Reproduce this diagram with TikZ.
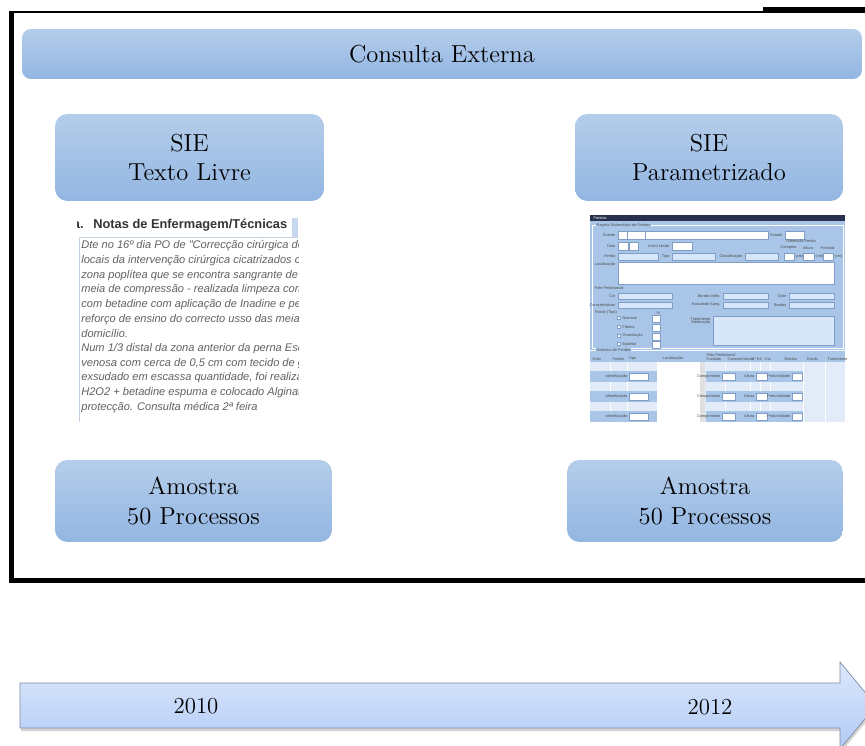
\documentclass[tikz,border=0pt]{standalone}
\usepackage{fontspec}
\usepackage{xcolor}
\usetikzlibrary{shadows}

\newfontfamily\shotfont{Liberation Sans}

\definecolor{boxtop}{HTML}{B4CDEA}
\definecolor{boxbot}{HTML}{93B6E2}
\definecolor{arrowtop}{HTML}{DCE8FC}
\definecolor{arrowbot}{HTML}{B2CBF6}
\definecolor{arrowline}{HTML}{7D8CA3}
\definecolor{formbg}{HTML}{A9C6E8}
\definecolor{formbar}{HTML}{27304D}
\definecolor{formline}{HTML}{7F9DC6}
\definecolor{combo}{HTML}{D7E6F8}
\definecolor{rowpale}{HTML}{E2ECF8}
\definecolor{shotline}{HTML}{C5D2E2}
\definecolor{shotblue}{HTML}{C7D8EE}

\tikzset{
    bluebox/.style={rounded corners=7pt, top color=boxtop, bottom color=boxbot,
        align=center, inner sep=0pt, font=\fontsize{14}{17}\selectfont},
    timearrow/.style={top color=arrowtop, bottom color=arrowbot, draw=arrowline, line width=0.4pt,
        drop shadow={shadow xshift=0.6pt, shadow yshift=-1.8pt, opacity=0.35}},
    yearlabel/.style={font=\fontsize{13}{15}\selectfont},
    notetext/.style={anchor=west, inner sep=0pt, text=black!62,
        font=\shotfont\itshape\fontsize{6.3}{7}\selectfont},
    notehead/.style={inner sep=0pt, text=black!80, font=\shotfont\bfseries\fontsize{7.3}{8}\selectfont},
    formfield/.style={fill=white, draw=formline, line width=0.2pt},
    formcombo/.style={fill=combo, draw=formline, line width=0.2pt},
    formlabel/.style={inner sep=0.2pt, text=black!70, font=\shotfont\fontsize{2.2}{2.4}\selectfont}
}

\begin{document}
\begin{tikzpicture}[x=0.02cm, y=-0.02cm]
    \useasboundingbox (0,0) rectangle (865,746);
    \fill[white] (0,0) rectangle (865,746);

    % Black frame, open on the right
    \draw[line width=1.1pt] (9,12) -- (870,12);
    \fill (763,7) rectangle (870,12.5);
    \draw[line width=2.9pt] (11.5,12) -- (11.5,580.5) -- (870,580.5);

    % Title bar
    \node[bluebox, rounded corners=5pt, minimum width=16.8cm, minimum height=1cm] (consulta) at (442,54) {Consulta Externa};

    % The two systems
    \node[bluebox, minimum width=5.38cm, minimum height=1.74cm] (sieLivre) at (189.5,157.5) {SIE\\Texto Livre};
    \node[bluebox, minimum width=5.36cm, minimum height=1.74cm] (sieParam) at (709,157.5) {SIE\\Parametrizado};

    % Samples
    \node[bluebox, minimum width=5.54cm, minimum height=1.64cm] (amostraLivre) at (193.5,501) {Amostra\\50 Processos};
    \node[bluebox, minimum width=5.52cm, minimum height=1.64cm] (amostraParam) at (705,501) {Amostra\\50 Processos};

    % Free text record
    \begin{scope}
        \clip (77,218) rectangle (298,422);
        \fill[white] (77,218) rectangle (298,422);
        \fill[shotblue] (292,218) rectangle (298,237);
        \draw[shotline, line width=0.6pt] (79.5,422) -- (79.5,237.5) -- (298,237.5);
        \node[notehead, anchor=east] (notasNum) at (84,225) {a.};
        \node[notehead, anchor=west] (notasHead) at (93,225) {Notas de Enfermagem/Técnicas};
        \foreach \txt [count=\i] in {{Dte no 16º dia PO de "Correcção cirúrgica de v},
                {locais da intervenção cirúrgica cicatrizados co},
                {zona poplítea que se encontra sangrante de pro},
                {meia de compressão - realizada limpeza com S},
                {com betadine com aplicação de Inadine e pens},
                {reforço de ensino do correcto usso das meias d},
                {domicílio.},
                {Num 1/3 distal da zona anterior da perna Esq a},
                {venosa com cerca de 0,5 cm com tecido de gra},
                {exsudado em escassa quantidade, foi realizada},
                {H2O2 + betadine espuma e colocado Alginato c},
                {protecção. Consulta médica 2ª feira}}
            \node[notetext] (nota\i) at (81,231+14.7*\i) {\txt};
    \end{scope}

    % Parametrised record
    \fill[formbg] (590,215) rectangle (845,422);
    \fill[formbar] (590,215) rectangle (845,221);
    \node[formlabel, anchor=west, text=white] (formTitle) at (593,218) {Feridas};
    \draw[white, line width=0.3pt] (592,225) rectangle (843,348);
    \node[formlabel, anchor=west, fill=formbg] (grpRegisto) at (596,225) {Registo Sistemático de Feridas};
    \foreach \xa/\ya/\xb/\yb in {618/231/627/239, 627/231/645/239, 645/231/768/239, 785/231/804/239,
            618/242/628/250, 629/242/638/250, 672/242/692/250, 784/253/794/260, 803/253/814/260,
            823/253/833/260, 618/262/834/284, 652/315/660/322, 652/324/660/331, 652/333/660/340, 652/341/660/348}
        \draw[formfield] (\xa,\ya) rectangle (\xb,\yb);
    \foreach \xa/\ya/\xb/\yb in {618/253/658/260, 672/253/715/260, 745/253/778/260, 618/293/672/299,
            723/293/768/299, 789/293/834/299, 618/302/672/308, 723/302/768/308, 789/302/834/308, 713/316/834/345}
        \draw[formcombo] (\xa,\ya) rectangle (\xb,\yb);
    \foreach \y in {318,327,336,344}
        \draw[formfield] (617,\y-1.5) rectangle (620,\y+1.5);
    % labels of the fields
    \foreach \x/\y/\txt [count=\i] in {616/235/Doente, 783/235/Estado, 616/246/Data, 670/246/Início Lesão,
            616/256.5/Ferida, 670/256.5/Tipo, 743/256.5/Classificação, 616/265/Localização, 616/296/Cor,
            616/305/Características, 721/296/Bordos Infiltr., 721/305/Exsudado Sang., 787/296/Odor,
            787/305/Bordos, 711/319/Tratamento, 711/323/Medicação}
        \node[formlabel, anchor=east] (lblE\i) at (\x,\y) {\txt};
    \foreach \x/\y/\txt [count=\i] in {594/288.5/Pele Perilesional, 594/313/Tecido (Tipo), 656/313/\%,
            622/318/Necrose, 622/327/Fibrina, 622/336/Granulação, 622/344/Epitelial,
            795/256.5/(cm), 815/256.5/(cm), 834/256.5/(cm)}
        \node[formlabel, anchor=west] (lblW\i) at (\x,\y) {\txt};
    \foreach \x/\y/\txt [count=\i] in {801/241/Dimensão Ferida, 789/248/Comprim., 808/248/Altura, 828/248/Profund.}
        \node[formlabel] (lblC\i) at (\x,\y) {\txt};

    % history of the wounds
    \draw[white, line width=0.3pt] (590,350) -- (845,350);
    \node[formlabel, anchor=west, fill=formbg] (grpHist) at (596,350) {Histórico de Feridas};
    \node[formlabel, anchor=west] (colPele) at (706,355) {Pele Perilesional};
    \foreach \x/\txt [count=\i] in {592/Data, 612/Ferida, 628/Tipo, 662/Localização, 706/Cuidado,
            727/Características, 751/Nº Dir, 764/Cor, 784/Bordos, 806/Tecido, 827/Tratamento}
        \node[formlabel, anchor=west] (col\i) at (\x,359) {\txt};
    \fill[rowpale] (590,362) rectangle (845,422);
    \foreach \x in {610,627,725,750,760,770,803,825}
        \draw[white, line width=0.4pt] (\x,362) -- (\x,422);
    \fill[white] (657,362) rectangle (700,422);
    \fill[black!12] (700,362) rectangle (705,422);
    \foreach \y in {371,391,411} {
        \fill[formbg] (590,\y) rectangle (657,\y+11);
        \fill[formbg] (706,\y) rectangle (803,\y+11);
        \draw[formfield] (629,\y+2) rectangle (648,\y+9);
        \draw[formfield] (722,\y+2) rectangle (735,\y+9);
        \draw[formfield] (756,\y+2) rectangle (767,\y+9);
        \draw[formfield] (792,\y+2) rectangle (802,\y+9);
        \node[formlabel, anchor=east] (ident\y) at (628,\y+5.5) {Identificação};
        \node[formlabel, anchor=east] (comp\y) at (721,\y+5.5) {Comprimento};
        \node[formlabel, anchor=east] (alt\y) at (755,\y+5.5) {Altura};
        \node[formlabel, anchor=east] (prof\y) at (791,\y+5.5) {Profundidade};
    }

    % Time line
    \path[timearrow] (20,683) -- (840,683) -- (840,662) -- (876,705.5) -- (840,749) -- (840,728) -- (20,728) -- cycle;
    \node[yearlabel] (ano2010) at (196,706) {2010};
    \node[yearlabel] (ano2012) at (710,707) {2012};

\end{tikzpicture}
\end{document}
